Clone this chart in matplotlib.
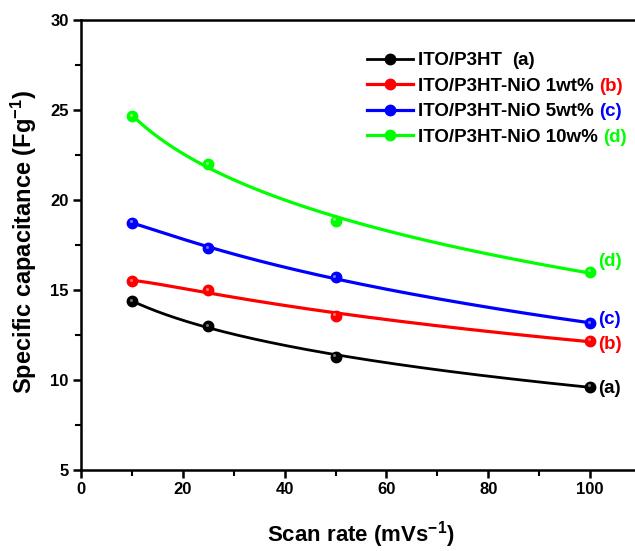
import numpy as np
import matplotlib
matplotlib.use('Agg')
import matplotlib.pyplot as plt
from matplotlib.lines import Line2D
from matplotlib import transforms

plt.rcParams['font.family'] = ['Liberation Sans', 'DejaVu Sans']
plt.rcParams['font.weight'] = 'bold'
plt.rcParams['mathtext.fontset'] = 'custom'
plt.rcParams['mathtext.rm'] = 'Liberation Sans:bold'
plt.rcParams['mathtext.bf'] = 'Liberation Sans:bold'
plt.rcParams['mathtext.default'] = 'bf'

# scan rates (mV/s) and specific capacitance (F/g)
scan_rate = [10, 25, 50, 100]
cap_a = [14.37, 13.0, 11.3, 9.63]
cap_b = [15.5, 14.98, 13.57, 12.18]
cap_c = [18.74, 17.33, 15.7, 13.15]
cap_d = [24.67, 22.0, 18.85, 16.02]

names = ['ITO/P3HT  ', 'ITO/P3HT-NiO 1wt% ', 'ITO/P3HT-NiO 5wt% ', 'ITO/P3HT-NiO 10w% ']
tags = ['(a)', '(b)', '(c)', '(d)']
colors = ['#000000', '#ff0000', '#0000ff', '#00ff00']
series = [cap_a, cap_b, cap_c, cap_d]
# where the end tags sit relative to the last point (points)
tag_offsets = [(6, -1), (6, -3), (6, 3), (6, 7)]

fig = plt.figure(figsize=(6.35, 5.51), dpi=100)
ax = fig.add_axes([81/635, 81/551, 560/635, 450/551])

hl = transforms.offset_copy(ax.transData, fig=fig, x=-1.0, y=1.0, units='points')
handles = []
for y, c in zip(series, colors):
    x = np.array(scan_rate, dtype=float)
    # smooth trend: quadratic in log(scan rate)
    coef = np.polyfit(np.log(x), y, 2)
    xs = np.linspace(x[0], x[-1], 200)
    lw = 2.0 if c == '#000000' else 2.3
    ax.plot(xs, np.polyval(coef, np.log(xs)), color=c, lw=lw, zorder=2)
    ax.plot(x, y, 'o', color=c, ms=7.5, mec=c, zorder=3)
    ax.plot(x, y, 'o', color='white', ms=2.2, mew=0, alpha=0.45, transform=hl, zorder=4)
    handles.append(Line2D([], [], color=c, lw=lw, marker='o', ms=7.5))

for y, c, t, off in zip(series, colors, tags, tag_offsets):
    ax.annotate(t, xy=(scan_rate[-1], y[-1]), xytext=off, textcoords='offset points',
                color=c, fontsize=13.5, fontweight='bold', va='center', ha='left')

leg = ax.legend(handles, names, loc='upper left', bbox_to_anchor=(367/635, 1 - 52/551),
                bbox_transform=fig.transFigure, frameon=False, fontsize=13.5,
                handlelength=2.45, handletextpad=0.25, labelspacing=0.45, borderpad=0,
                borderaxespad=0)
leg.set_zorder(5)
for txt, t, c in zip(leg.get_texts(), tags, colors):
    ax.annotate(t, xy=(1, 0), xycoords=txt, xytext=(0, 0), textcoords='offset points',
                color=c, fontsize=13.5, fontweight='bold', va='bottom', ha='left',
                zorder=6)

ax.set_xlim(0, 110)
ax.set_ylim(5, 30)
ax.set_xticks([0, 20, 40, 60, 80, 100])
ax.set_xticks(np.arange(10, 110, 20), minor=True)
ax.set_yticks([5, 10, 15, 20, 25, 30])
ax.set_yticks(np.arange(7.5, 30, 5), minor=True)
ax.tick_params(which='major', direction='out', length=6, width=1.8, labelsize=12, pad=3)
ax.tick_params(which='minor', direction='out', length=4, width=1.5)
for s in ['left', 'bottom', 'top']:
    ax.spines[s].set_linewidth(1.8)
ax.spines['right'].set_visible(False)
ax.tick_params(top=False, right=False)

ax.set_xlabel('Scan rate (mVs$^{-1}$)', fontsize=16, fontweight='bold')
ax.xaxis.set_label_coords(0.5, -0.11)
ax.set_ylabel('Specific capacitance (Fg$^{-1}$)', fontsize=17, fontweight='bold')
ax.yaxis.set_label_coords(-0.075, 0.507)

fig.savefig('out.png', dpi=100)
